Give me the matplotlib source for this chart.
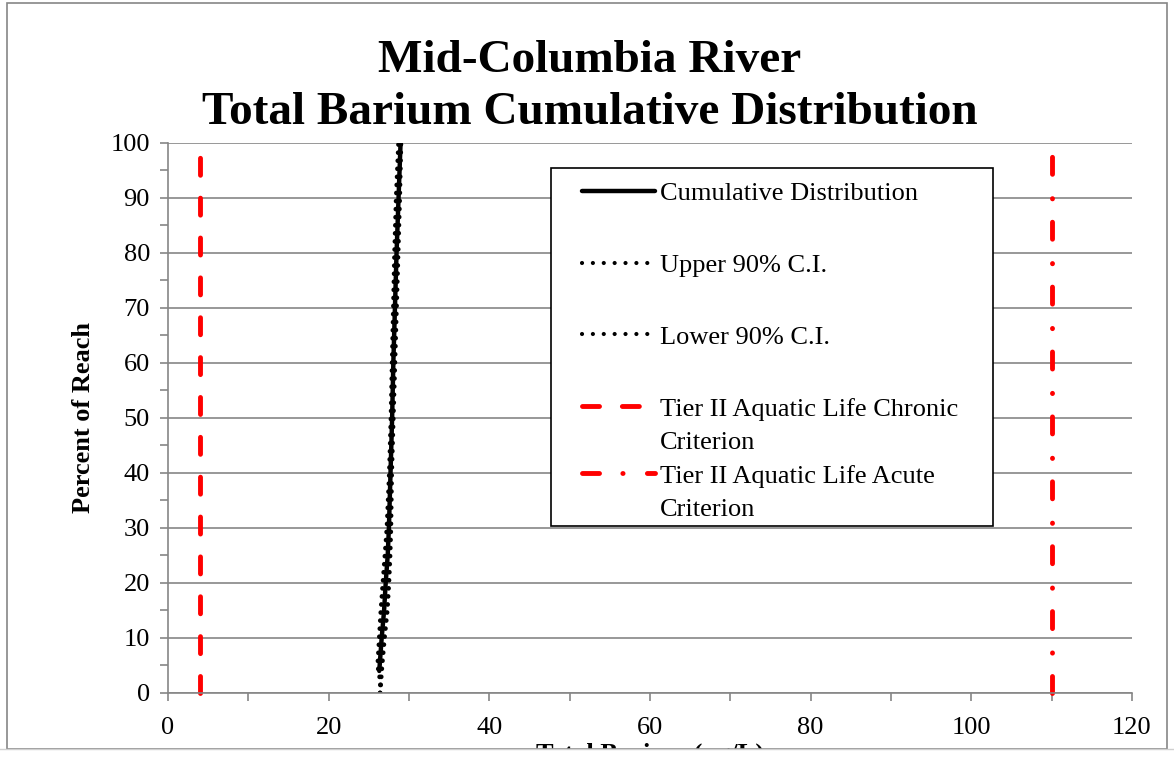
import matplotlib
matplotlib.use('Agg')
import matplotlib.pyplot as plt
from matplotlib.ticker import MultipleLocator
from matplotlib.patches import Rectangle
from matplotlib.lines import Line2D

plt.rcParams['font.family'] = ['Liberation Serif', 'DejaVu Serif']

# cumulative distribution: percent of reach vs total barium (ug/L)
cdf_pct = [4, 10, 15, 20, 25, 30, 40, 50, 60, 70, 80, 90, 100]
cdf_conc = [26.3, 26.6, 26.9, 27.1, 27.35, 27.5, 27.7, 27.9, 28.05, 28.25, 28.45, 28.7, 28.95]

# 90% confidence bounds
ci_pct = [0, 2, 5, 10, 15, 20, 25, 30, 40, 50, 60, 70, 80, 90, 100]
upper_ci = [26.4, 26.45, 26.1, 26.3, 26.5, 26.75, 27.0, 27.25, 27.55, 27.75, 27.9, 28.05, 28.2, 28.4, 28.7]
lower_ci = [26.4, 26.5, 26.65, 26.95, 27.3, 27.5, 27.65, 27.75, 27.85, 28.05, 28.25, 28.45, 28.65, 28.85, 29.0]

# criteria (ug/L)
chronic = 4
acute = 110
crit_pct = [0, 100]

labels = ['Cumulative Distribution', 'Upper 90% C.I.', 'Lower 90% C.I.',
          'Tier II Aquatic Life Chronic', 'Criterion', 'Tier II Aquatic Life Acute', 'Criterion']

grey = '#868686'
red = '#ff0000'
dot_style = (0, (0.01, 1.7))
chronic_style = (0, (3.5, 4.7))
acute_style = (0, (3.5, 4.8, 0.05, 5.0))

fig = plt.figure(figsize=(11.74, 7.59), dpi=100)
ax = fig.add_axes([0.1431, 0.0870, 0.8211, 0.7246])

l1, = ax.plot(cdf_conc, cdf_pct, color='black', lw=3.2, solid_capstyle='round')
ax.plot(upper_ci, ci_pct, color='black', lw=3.4, linestyle=dot_style, dash_capstyle='round')
ax.plot(lower_ci, ci_pct, color='black', lw=3.4, linestyle=dot_style, dash_capstyle='round')
l4, = ax.plot([chronic, chronic], crit_pct, color=red, lw=3.5, linestyle=chronic_style,
              dash_capstyle='round', clip_on=False)
l5, = ax.plot([acute, acute], crit_pct, color=red, lw=3.5, linestyle=acute_style,
              dash_capstyle='round', clip_on=False)

ax.set_xlim(0, 120)
ax.set_ylim(0, 100)
ax.xaxis.set_major_locator(MultipleLocator(20))
ax.xaxis.set_minor_locator(MultipleLocator(10))
ax.yaxis.set_major_locator(MultipleLocator(10))
ax.yaxis.set_minor_locator(MultipleLocator(5))
ax.yaxis.grid(True, which='major', color=grey, lw=1.2)
ax.set_axisbelow(True)
for s in ['top', 'right']:
    ax.spines[s].set_visible(False)
for s in ['left', 'bottom']:
    ax.spines[s].set_color(grey)
    ax.spines[s].set_linewidth(1.2)
ax.tick_params(which='both', direction='out', length=6, width=1.2, color=grey, labelsize=19)
ax.tick_params(axis='x', pad=11)
ax.tick_params(axis='y', pad=7)

# legend box and entries (Excel-style spacing, wrapped labels on their own rows)
ax.add_patch(Rectangle((0.397, 0.3036), 0.459, 0.651, transform=ax.transAxes,
                       facecolor='white', edgecolor='black', lw=1.2, zorder=4))
dot_handle = Line2D([], [], color='black', lw=3, linestyle=(0, (0.01, 2.6)), dash_capstyle='round')
blank = Line2D([], [], linestyle='none')
leg_kw = dict(loc='center left', frameon=False, fontsize=19, handlelength=2.75,
              handletextpad=0.2, borderpad=0, borderaxespad=0)
legA = ax.legend([l1, dot_handle, dot_handle], labels[:3], bbox_to_anchor=(0.4295, 0.778),
                 labelspacing=1.83, **leg_kw)
legA.set_zorder(5)
ax.add_artist(legA)
legB = ax.legend([l4, blank, l5, blank], labels[3:], bbox_to_anchor=(0.4295, 0.425),
                 labelspacing=0.38, **leg_kw)
legB.set_zorder(5)

# titles
fig.text(0.5025, 0.9051, 'Mid-Columbia River', ha='center', va='baseline', fontsize=34, weight='bold')
fig.text(0.5025, 0.8366, 'Total Barium Cumulative Distribution', ha='center', va='baseline',
         fontsize=34, weight='bold')
fig.text(83 / 1174, 0.4493, 'Percent of Reach', rotation=90, ha='center', va='center',
         fontsize=19, weight='bold')
fig.text(650 / 1174, 1 - 743 / 759, 'Total Barium (ug/L)', ha='center', va='top',
         fontsize=19, weight='bold')

# chart frame, cut off at the bottom as in the source image
fig.add_artist(Rectangle((0, 0), 1, 10 / 759, transform=fig.transFigure,
                         facecolor='white', edgecolor='none', zorder=10))
fig.add_artist(Rectangle((7 / 1174, 10 / 759), 1160 / 1174, 746 / 759, transform=fig.transFigure,
                         facecolor='none', edgecolor=grey, lw=1.2, zorder=11))
fig.add_artist(Line2D([0, 1], [10 / 759, 10 / 759], transform=fig.transFigure,
                      color='#d0d0d0', lw=1, zorder=11))

fig.savefig('out.png', dpi=100)
